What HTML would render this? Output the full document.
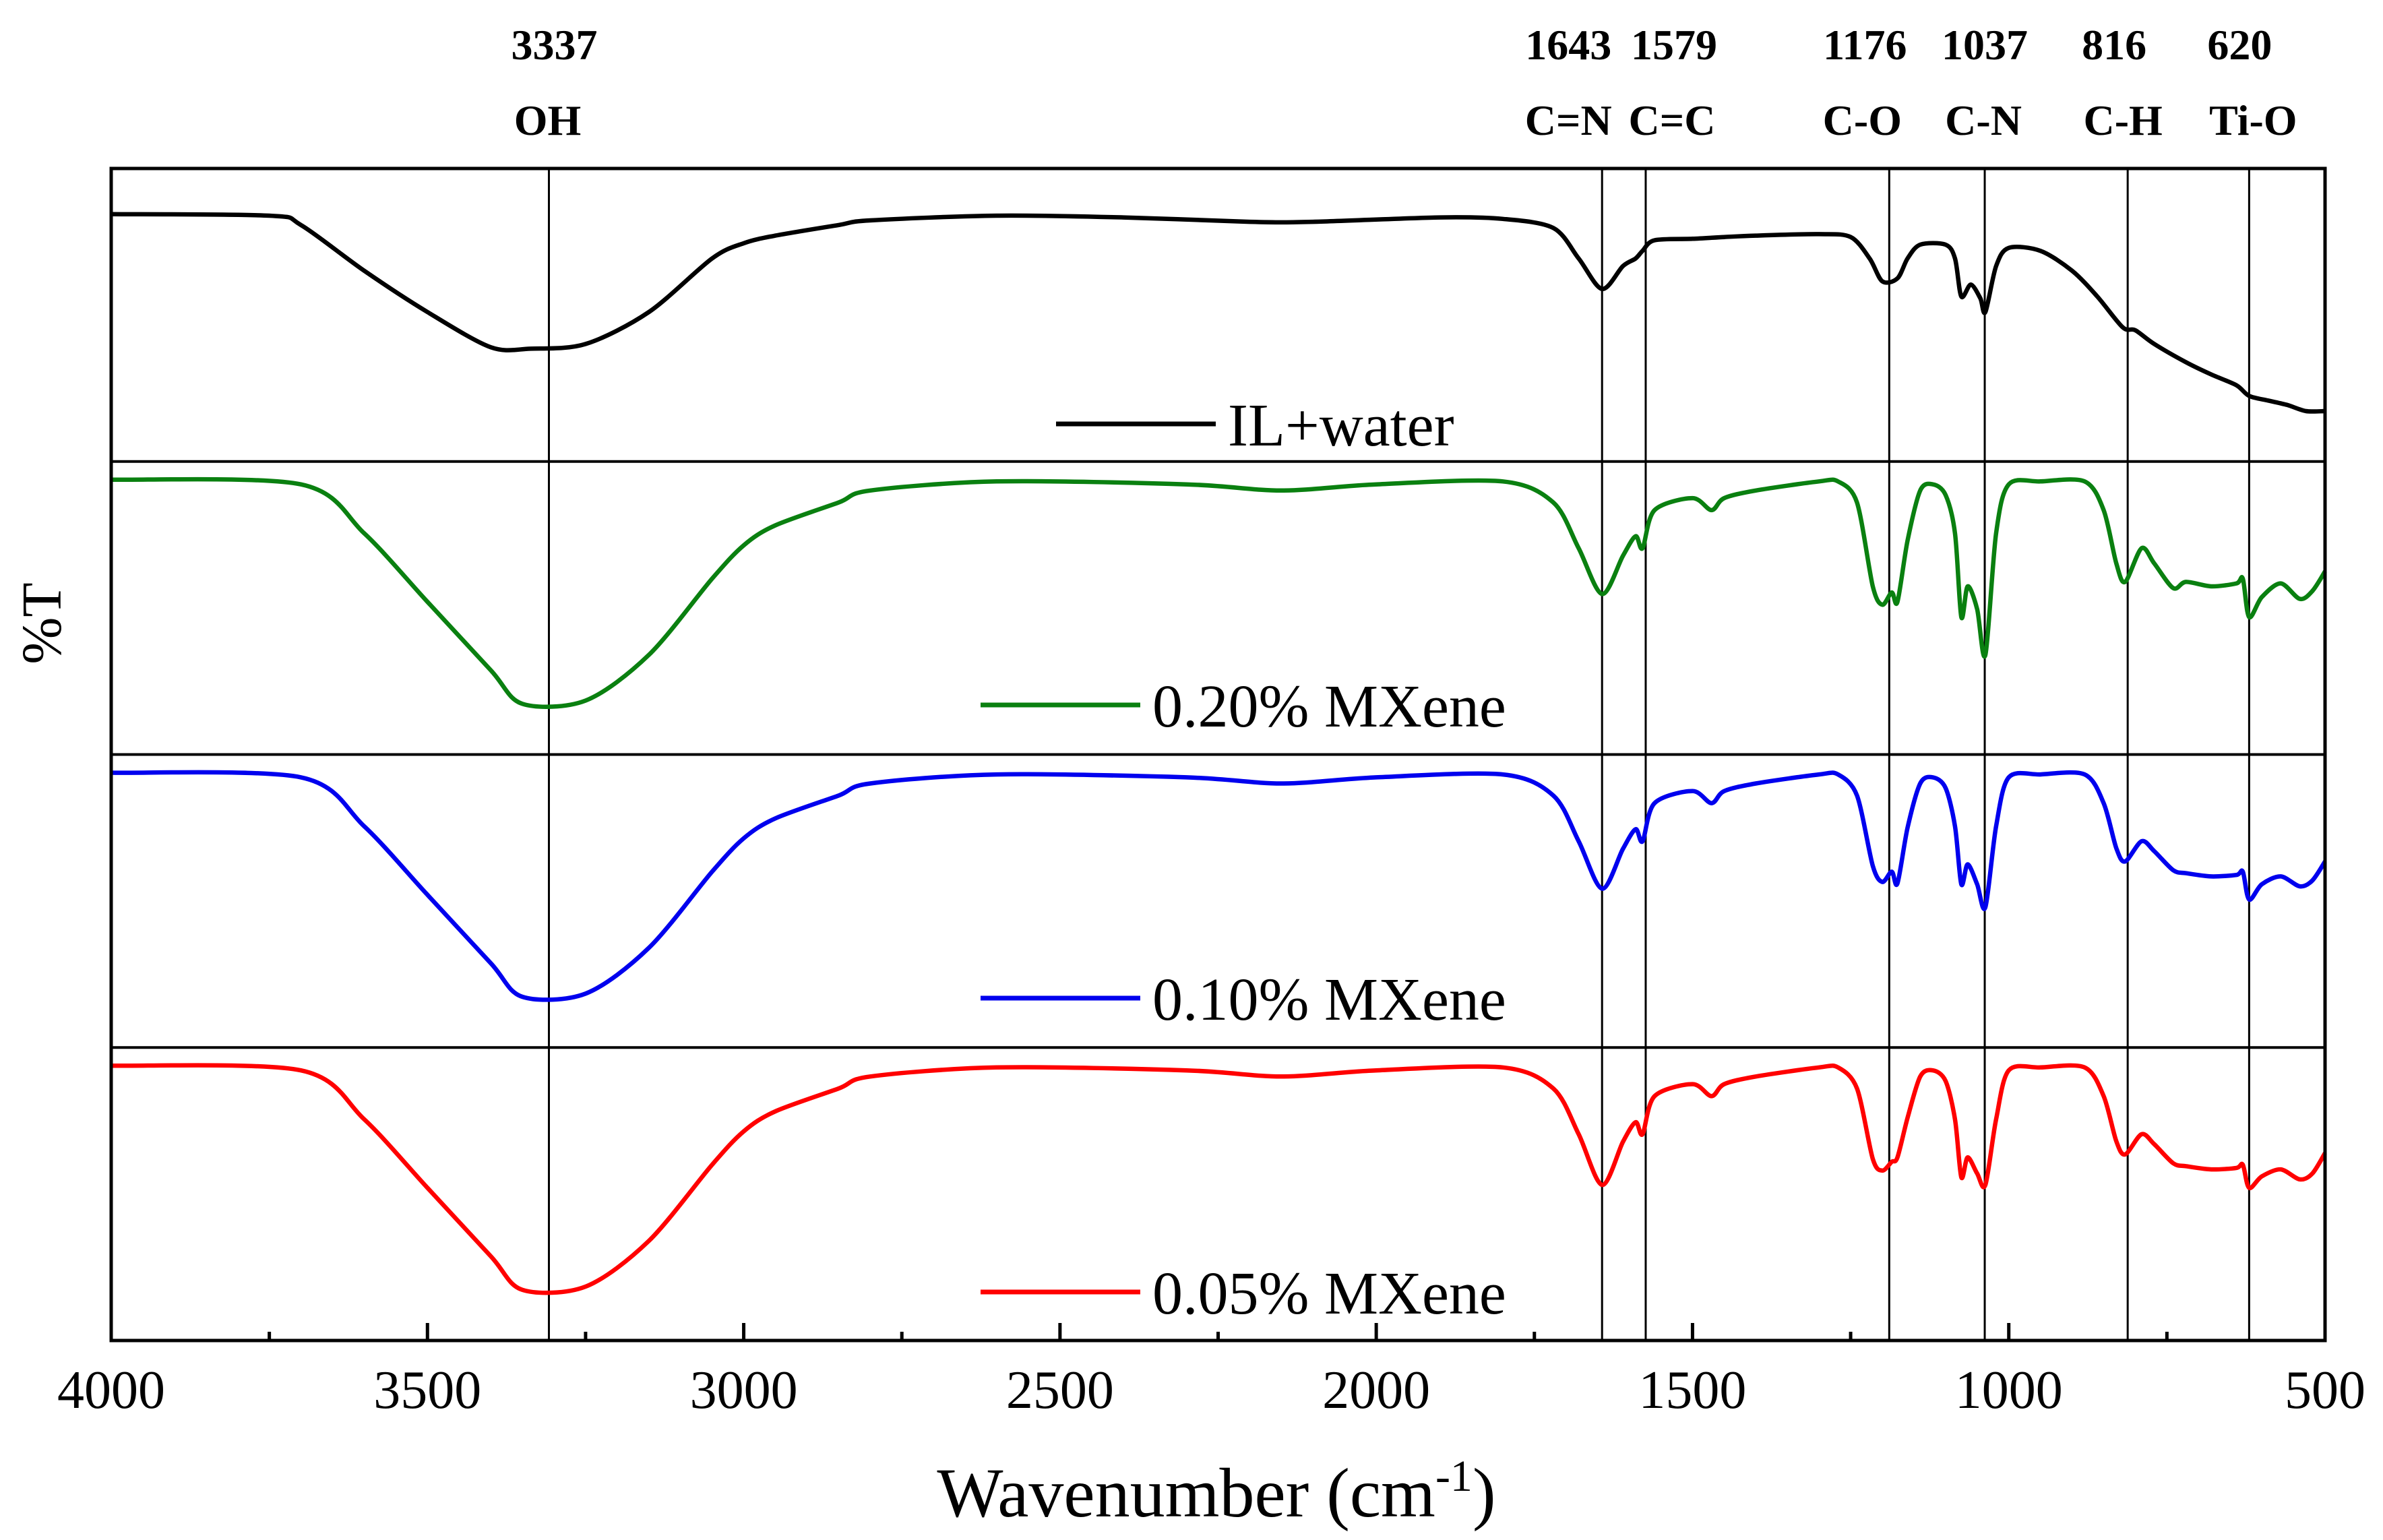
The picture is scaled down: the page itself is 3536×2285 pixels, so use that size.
<!DOCTYPE html>
<html><head><meta charset="utf-8"><style>
html,body{margin:0;padding:0;background:#fff;}
svg{display:block;font-family:"Liberation Serif",serif;}
</style></head><body>
<svg id="chart" width="3536" height="2285" viewBox="0 0 3536 2285" xmlns="http://www.w3.org/2000/svg"></svg>
<script>
const xTicks = [4000,3500,3000,2500,2000,1500,1000,500];
const xMinor = [3750,3250,2750,2250,1750,1250,750];
const peakPos = [3308,1643,1574,1189,1038,812,620];
const peakNums = ["3337","1643","1579","1176","1037","816","620"];
const peakLabels = ["OH","C=N","C=C","C-O","C-N","C-H","Ti-O"];
const seriesNames = ["IL+water","0.20% MXene","0.10% MXene","0.05% MXene"];
const seriesColors = ["#000000","#0a8010","#0000ee","#ff0000"];

const wnBlack = [4000,3750,3700,3600,3500,3400,3337,3250,3150,3050,3000,2950,2850,2800,2600,2400,2200,2100,1900,1800,1720,1680,1643,1610,1590,1579,1560,1500,1450,1400,1300,1250,1220,1200,1176,1160,1140,1100,1085,1075,1060,1045,1037,1020,1000,950,900,860,820,800,770,720,680,640,620,590,560,530,500];
const tBlack = [84.4,83.9,80.7,65.1,51,39,38.5,40.1,51,69.3,74.5,77.1,80.7,82.3,83.9,83.3,81.8,81.8,83.3,82.8,79.7,69.3,58.9,66.7,69.3,71.9,75.5,76,76.6,77.1,77.6,76.6,69.3,61.5,62.5,69.3,74,74,69.3,56.3,60.4,55.7,51,66.7,72.9,71.9,65.1,56.3,45.8,44.8,40.1,33.9,29.7,26,22.4,20.8,19.3,17.2,17.2];

const wnM = [4000,3700,3600,3500,3400,3350,3250,3150,3050,3000,2950,2850,2800,2600,2300,2150,2000,1800,1720,1680,1643,1610,1590,1579,1560,1500,1470,1450,1400,1300,1270,1240,1215,1200,1185,1176,1160,1140,1120,1100,1085,1075,1065,1050,1037,1020,1000,950,880,850,830,816,790,770,740,720,680,640,630,620,600,570,540,520,500];
const tGreen = [93.8,92.2,75.5,52.1,28.8,17.3,18.4,34,60,71.4,78.2,86,90.1,93.2,92.2,90.1,92.2,93.2,86,70.4,54.8,67.8,74.5,70.4,83.4,87.5,83.4,87.5,90.1,93.2,93.2,86,57.4,51.1,55.3,52.1,73,90.1,92.2,88.6,75.5,46.9,57.4,49.6,34,75.5,92.2,93.2,93.2,83.4,65.2,58.9,70.4,65.2,56.8,58.9,57.4,58.4,60,46.9,53.7,58.4,53.1,55.8,62.5];
const tBlue = [93.8,92.2,75.5,52.1,28.8,17.3,18.4,34,60,71.4,78.2,86,90.1,93.2,92.2,90.1,92.2,93.2,86,70.4,54.2,67.8,74.5,70.4,83.4,87.5,83.4,87.5,90.1,93.2,93.2,86,62,56.5,60,56,75,90.1,92.2,88.6,75.5,55.7,62.5,55.7,47.9,75.5,92.2,93.2,93.2,83.4,68,63.5,70.4,67,60.5,59.5,58.4,58.9,60,50.5,55.7,58.4,55,57,63.5];
const tRed = [93.8,92.2,75.5,52.1,28.8,17.3,18.4,34,60,71.4,78.2,86,90.1,93.2,92.2,90.1,92.2,93.2,86,70.4,53.1,67.8,74.5,70.4,83.4,87.5,83.4,87.5,90.1,93.2,93.2,86,62,58,61,62.5,76,90.1,92.2,88.6,75.5,55.7,62.5,57,53.1,75.5,92.2,93.2,93.2,83.4,68,63.5,70.4,67,60.5,59.5,58.4,58.9,60,52.1,56,58.4,55,57,64];

const NS="http://www.w3.org/2000/svg";
const svg=document.getElementById('chart');
const L=165,R=3450,T=250,B=1989;
const PH=(B-T)/4;
const x=v=>L+(4000-v)/3500*(R-L);
const y=(t,p)=>T+p*PH+(100-t)/100*PH;
function mk(tag,attrs,parent){const e=document.createElementNS(NS,tag);for(const k in attrs)e.setAttribute(k,attrs[k]);(parent||svg).appendChild(e);return e;}
function smooth(P){
  let d='M'+P[0][0].toFixed(1)+','+P[0][1].toFixed(1);
  const k=0.15;
  for(let i=0;i<P.length-1;i++){
    const p0=P[i-1]||P[i],p1=P[i],p2=P[i+1],p3=P[i+2]||P[i+1];
    const c1=[p1[0]+(p2[0]-p0[0])*k,p1[1]+(p2[1]-p0[1])*k];
    const c2=[p2[0]-(p3[0]-p1[0])*k,p2[1]-(p3[1]-p1[1])*k];
    d+=' C'+c1[0].toFixed(1)+','+c1[1].toFixed(1)+' '+c2[0].toFixed(1)+','+c2[1].toFixed(1)+' '+p2[0].toFixed(1)+','+p2[1].toFixed(1);
  }
  return d;
}

const numDx=[8,-50,42,-36,0,-20,-14];
const labDx=[-2,-50,39,-40,-2,-7,6];
peakPos.forEach((p,i)=>{
  const ln=mk('line',{x1:x(p),x2:x(p),y1:T,y2:B,stroke:'#000','stroke-width':3});
  
  
  const n=mk('text',{x:x(p)+numDx[i],y:88,'text-anchor':'middle','font-size':64,'font-weight':'bold'});
  n.textContent=peakNums[i];
  
  
  const lb=mk('text',{x:x(p)+labDx[i],y:200,'text-anchor':'middle','font-size':64,'font-weight':'bold'});
  lb.textContent=peakLabels[i];
  
  
});

const series=[[wnBlack,tBlack],[wnM,tGreen],[wnM,tBlue],[wnM,tRed]];
const legY=[629,1046,1481,1917];
const legX=[1567,1455,1455,1455];
series.forEach((s,p)=>{
  const P=s[0].map((w,i)=>[x(w),y(s[1][i],p)]);
  const pl=mk('path',{d:smooth(P),fill:'none',stroke:seriesColors[p],'stroke-width':6.5,'stroke-linejoin':'round'});
  
  
  const ll=mk('line',{x1:legX[p],x2:legX[p]+237,y1:legY[p],y2:legY[p],stroke:seriesColors[p],'stroke-width':7});
  
  
  const lt=mk('text',{x:legX[p]+255,y:legY[p]+32,'font-size':90});
  lt.textContent=seriesNames[p];
  
  
});

for(let i=1;i<4;i++){
  const d=mk('line',{x1:L,x2:R,y1:T+i*PH,y2:T+i*PH,stroke:'#000','stroke-width':4});
  
  
}
const fr=mk('rect',{x:L,y:T,width:R-L,height:B-T,fill:'none',stroke:'#000','stroke-width':5});



xTicks.forEach(v=>{
  const t=mk('line',{x1:x(v),x2:x(v),y1:B,y2:B-26,stroke:'#000','stroke-width':5});
  
  
  const lb=mk('text',{x:x(v),y:2089,'text-anchor':'middle','font-size':80});
  lb.textContent=v;
  
  
});
xMinor.forEach(v=>{
  const t=mk('line',{x1:x(v),x2:x(v),y1:B,y2:B-13,stroke:'#000','stroke-width':5});
  
  
});

const xt=mk('text',{x:1805,y:2250,'text-anchor':'middle','font-size':104});
xt.innerHTML='Wavenumber (cm<tspan dy="-38" font-size="66">-1</tspan><tspan dy="38">)</tspan>';


const yt=mk('text',{x:0,y:0,'text-anchor':'middle','font-size':84,transform:'translate(90,925) rotate(-90)'});
yt.textContent='%T';


</script>
</body></html>
